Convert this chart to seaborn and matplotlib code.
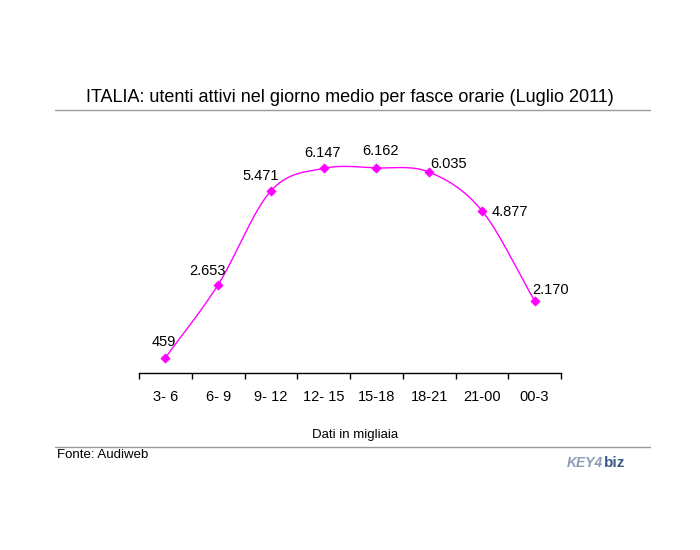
import numpy as np
import pandas as pd
import matplotlib
matplotlib.use("Agg")
import matplotlib.pyplot as plt
import seaborn as sns

categories = ["3- 6", "6- 9", "9- 12", "12- 15", "15-18", "18-21", "21-00", "00-3"]
values = [459, 2653, 5471, 6147, 6162, 6035, 4877, 2170]
value_labels = ["459", "2.653", "5.471", "6.147", "6.162", "6.035", "4.877", "2.170"]
title = "ITALIA: utenti attivi nel giorno medio per fasce orarie (Luglio 2011)"
xlabel = "Dati in migliaia"
source = "Fonte: Audiweb"

# label offsets in points (dx, dy) and horizontal alignment
label_offsets = [(-1, 6), (-8, 5), (-7, 6), (-1, 6), (3, 7), (1, 1), (7, -6), (-2, 3)]
label_ha = ["center", "center", "center", "center", "center", "left", "left", "left"]

sns.set_theme(style="white")
plt.rcParams["font.family"] = ["Liberation Sans", "DejaVu Sans"]

fig = plt.figure(figsize=(7, 5.5), dpi=100)
ax = fig.add_axes([139 / 700, 1 - 373 / 550, 422 / 700, (373 - 140) / 550])

df = pd.DataFrame({"fascia": categories, "utenti": values, "x": np.arange(len(categories))})

# smooth connecting curve (Catmull-Rom through the data points)
x = df["x"].to_numpy(float)
y = df["utenti"].to_numpy(float)
px = np.concatenate([[2 * x[0] - x[1]], x, [2 * x[-1] - x[-2]]])
py = np.concatenate([[2 * y[0] - y[1]], y, [2 * y[-1] - y[-2]]])
sx, sy = [], []
t = np.linspace(0, 1, 30)
for i in range(1, len(px) - 2):
    p0, p1, p2, p3 = [np.array([px[j], py[j]]) for j in (i - 1, i, i + 1, i + 2)]
    for tt in t:
        pt = 0.5 * ((2 * p1) + (-p0 + p2) * tt + (2 * p0 - 5 * p1 + 4 * p2 - p3) * tt ** 2
                    + (-p0 + 3 * p1 - 3 * p2 + p3) * tt ** 3)
        sx.append(pt[0]); sy.append(pt[1])
sns.lineplot(x=sx, y=sy, ax=ax, color="#FF00FF", linewidth=1.0, sort=False, estimator=None)
sns.scatterplot(data=df, x="x", y="utenti", ax=ax, marker="D", s=22, color="#FF00FF",
                edgecolor="#FF00FF", linewidth=0.5, zorder=3)

for i, (xv, yv) in enumerate(zip(x, y)):
    ax.annotate(value_labels[i], (xv, yv), xytext=label_offsets[i], textcoords="offset points",
                ha=label_ha[i], va="bottom", fontsize=10.5, color="black")

ax.set_xlim(-0.5, len(categories) - 0.5)
ax.set_ylim(0, 7000)
ax.set_xticks(np.arange(len(categories) + 1) - 0.5, minor=False)
ax.set_xticklabels([""] * (len(categories) + 1))
ax.set_xticks(np.arange(len(categories)), minor=True)
ax.set_xticklabels(categories, minor=True)
ax.tick_params(axis="x", which="major", direction="out", length=4, width=1, color="black", bottom=True)
ax.tick_params(axis="x", which="minor", length=0, pad=12, labelsize=10.5, labelcolor="black")
ax.set_yticks([])
ax.set_xlabel("")
ax.set_ylabel("")
for s in ["left", "right", "top"]:
    ax.spines[s].set_visible(False)
ax.spines["bottom"].set_color("black")
ax.spines["bottom"].set_linewidth(1)

fig.text(350 / 700, 1 - 97 / 550, title, ha="center", va="center", fontsize=13, color="black")
fig.add_artist(plt.Line2D([55 / 700, 650 / 700], [1 - 110 / 550] * 2, color="#999999", linewidth=1))
fig.text(355 / 700, 1 - 435 / 550, xlabel, ha="center", va="center", fontsize=9.5, color="black")
fig.add_artist(plt.Line2D([55 / 700, 650 / 700], [1 - 447 / 550] * 2, color="#999999", linewidth=1))
fig.text(57 / 700, 1 - 455 / 550, source, ha="left", va="center", fontsize=9.5, color="black")
fig.text(603 / 700, 1 - 463 / 550, "KEY4", ha="right", va="center", fontsize=10, color="#8a9bb8",
         fontweight="bold", style="italic")
fig.text(604 / 700, 1 - 463 / 550, "biz", ha="left", va="center", fontsize=11, color="#3a5a8c",
         fontweight="bold")

fig.savefig("out.png", dpi=100, facecolor="white")
